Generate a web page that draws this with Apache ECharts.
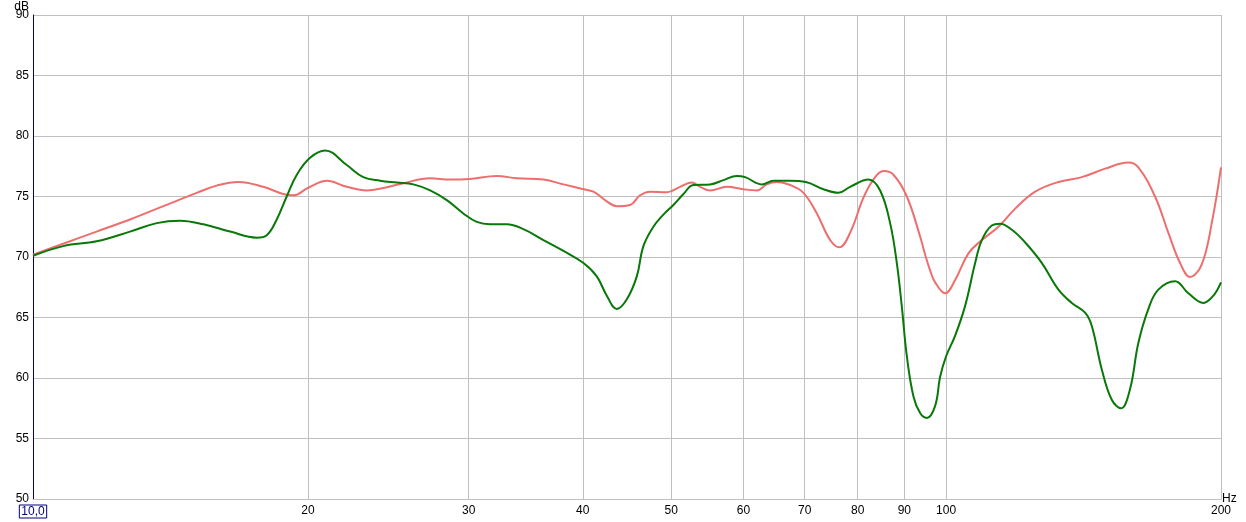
<!DOCTYPE html>
<html>
<head>
<meta charset="utf-8">
<script src="https://cdn.jsdelivr.net/npm/echarts@6/dist/echarts.min.js"></script>
<style>
html,body{margin:0;padding:0;background:#fff;}
#chart{width:1246px;height:522px;}
</style>
</head>
<body>
<div id="chart"></div>
<script>
// Frequency (Hz) / level (dB) pairs
var redFreq = [10,10.79,11.74,12.77,13.89,15.11,15.89,16.78,17.87,18.80,19.28,20.0,20.98,22.06,23.20,24.20,25.45,27.22,28.62,30.05,32.21,33.87,36.22,38.10,40.07,41.09,42.50,43.59,45.07,46.22,47.40,49.44,51.13,52.66,53.78,55.15,57.52,59.98,62.04,63.62,65.25,67.47,69.78,72.18,74.64,76.41,78.50,81.18,83.25,85.38,87.56,90.57,93.65,94.84,96.04,97.27,99.75,102.30,105.79,109.43,114.10,119.03,125.19,132.74,140.80,149.32,158.34,162.37,169.35,175.14,180.39,184.99,190.53,195.39,200];
var redDb   = [70.2,71.1,72.1,73.1,74.2,75.3,75.9,76.2,75.8,75.2,75.1,75.7,76.3,75.8,75.5,75.7,76.1,76.5,76.4,76.45,76.7,76.5,76.4,76.0,75.6,75.4,74.6,74.2,74.3,75.1,75.4,75.35,75.8,76.15,75.8,75.5,75.8,75.6,75.5,76.0,76.2,75.95,75.3,73.6,71.4,70.8,72.0,74.9,76.4,77.1,76.8,75.0,71.7,70.2,68.9,67.9,67.0,68.1,70.3,71.4,72.5,74.0,75.4,76.2,76.6,77.3,77.8,77.4,75.0,72.0,69.5,68.35,69.4,72.8,77.4];

var greenFreq = [10,10.79,11.74,12.77,13.66,14.49,15.37,16.44,17.58,18.03,18.49,18.96,19.45,20.11,20.89,22.06,23.00,24.00,25.03,26.10,27.22,28.39,29.60,30.62,31.66,33.03,34.44,36.22,38.10,40.07,41.44,42.50,43.59,44.70,45.84,46.61,47.80,49.02,50.27,51.56,52.87,55.15,57.03,58.99,60.24,62.83,64.69,67.47,70.20,73.39,76.22,78.50,82.21,84.67,86.83,88.31,89.43,90.57,92.08,93.65,95.25,97.27,98.50,100,102.30,104.91,107.59,109.43,112.22,114.60,118.04,122.07,127.32,132.74,137.30,141.97,144.39,148.08,151.84,155.45,159.02,162.37,166.51,170.77,178.13,184.20,191.30,196.18,200];
var greenDb   = [70.1,70.9,71.3,72.1,72.8,73.0,72.7,72.1,71.6,71.8,73.1,75.0,76.8,78.2,78.8,77.6,76.6,76.3,76.15,76.0,75.5,74.7,73.6,72.9,72.7,72.7,72.3,71.4,70.5,69.5,68.4,66.8,65.7,66.5,68.4,70.9,72.5,73.5,74.3,75.2,75.95,76.0,76.35,76.7,76.6,76.0,76.3,76.3,76.2,75.6,75.3,75.8,76.4,75.5,72.8,69.5,65.9,61.8,58.5,57.1,56.7,57.7,60.1,61.8,63.5,65.96,69.5,71.4,72.6,72.75,72.25,71.2,69.5,67.3,66.2,65.4,64.3,60.7,58.2,57.5,59.1,62.9,65.7,67.3,68.0,67.0,66.2,66.8,67.9];

var xTickHz = [10,20,30,40,50,60,70,80,90,100,200];
var yMin = 50, yMax = 90, yStep = 5;
var xMinHz = 10, xMaxHz = 200;

function pairs(fs, ds){ return fs.map(function(f,i){ return [Math.log10(f), ds[i]]; }); }
var xTickLog = xTickHz.map(function(f){ return Math.log10(f); });

var FONT = 'Arial, "Liberation Sans", sans-serif';
var GRID = '#c0c0c0';
var NAVY = '#000080';

var chart = echarts.init(document.getElementById('chart'), null, {renderer:'canvas'});
chart.setOption({
  animation:false,
  backgroundColor:'#ffffff',
  grid:{left:33, right:25, top:15, bottom:23, containLabel:false, outerBoundsMode:'none'},
  xAxis:{
    type:'value',
    min:Math.log10(xMinHz), max:Math.log10(xMaxHz),
    name:'Hz', nameLocation:'end', nameGap:1, nameMoveOverlap:false,
    nameTextStyle:{color:'#000', fontFamily:FONT, fontSize:12, align:'left', verticalAlign:'middle', padding:[0,0,3,0]},
    axisLine:{show:true, lineStyle:{color:GRID, width:1}},
    axisTick:{show:false, customValues:xTickLog},
    splitLine:{show:true, lineStyle:{color:GRID, width:1}},
    axisLabel:{
      customValues:xTickLog,
      margin:6,
      color:'#000', fontFamily:FONT, fontSize:12,
      formatter:function(v){
        var hz = Math.round(Math.pow(10, v));
        if (hz === xMinHz) return '{box|10,0}';
        return String(hz);
      },
      rich:{box:{color:NAVY, fontFamily:FONT, fontSize:12, borderColor:NAVY, borderWidth:1, padding:[1,2,0,2]}}
    }
  },
  yAxis:{
    type:'value', min:yMin, max:yMax, interval:yStep,
    name:'dB', nameLocation:'end', nameGap:2, nameMoveOverlap:false,
    nameTextStyle:{color:'#000', fontFamily:FONT, fontSize:12, align:'right', verticalAlign:'bottom', padding:[0,4,0,0]},
    axisLine:{show:true, onZero:false, lineStyle:{color:NAVY, width:1}},
    axisTick:{show:false},
    splitLine:{show:true, lineStyle:{color:GRID, width:1}},
    axisLabel:{margin:4, color:'#000', fontFamily:FONT, fontSize:12}
  },
  series:[
    {type:'line', data:pairs(redFreq, redDb), showSymbol:false, smooth:0.4,
     lineStyle:{color:'#ee6e6e', width:2}, z:3},
    {type:'line', data:pairs(greenFreq, greenDb), showSymbol:false, smooth:0.4,
     lineStyle:{color:'#087808', width:2}, z:4}
  ]
});
</script>
</body>
</html>
